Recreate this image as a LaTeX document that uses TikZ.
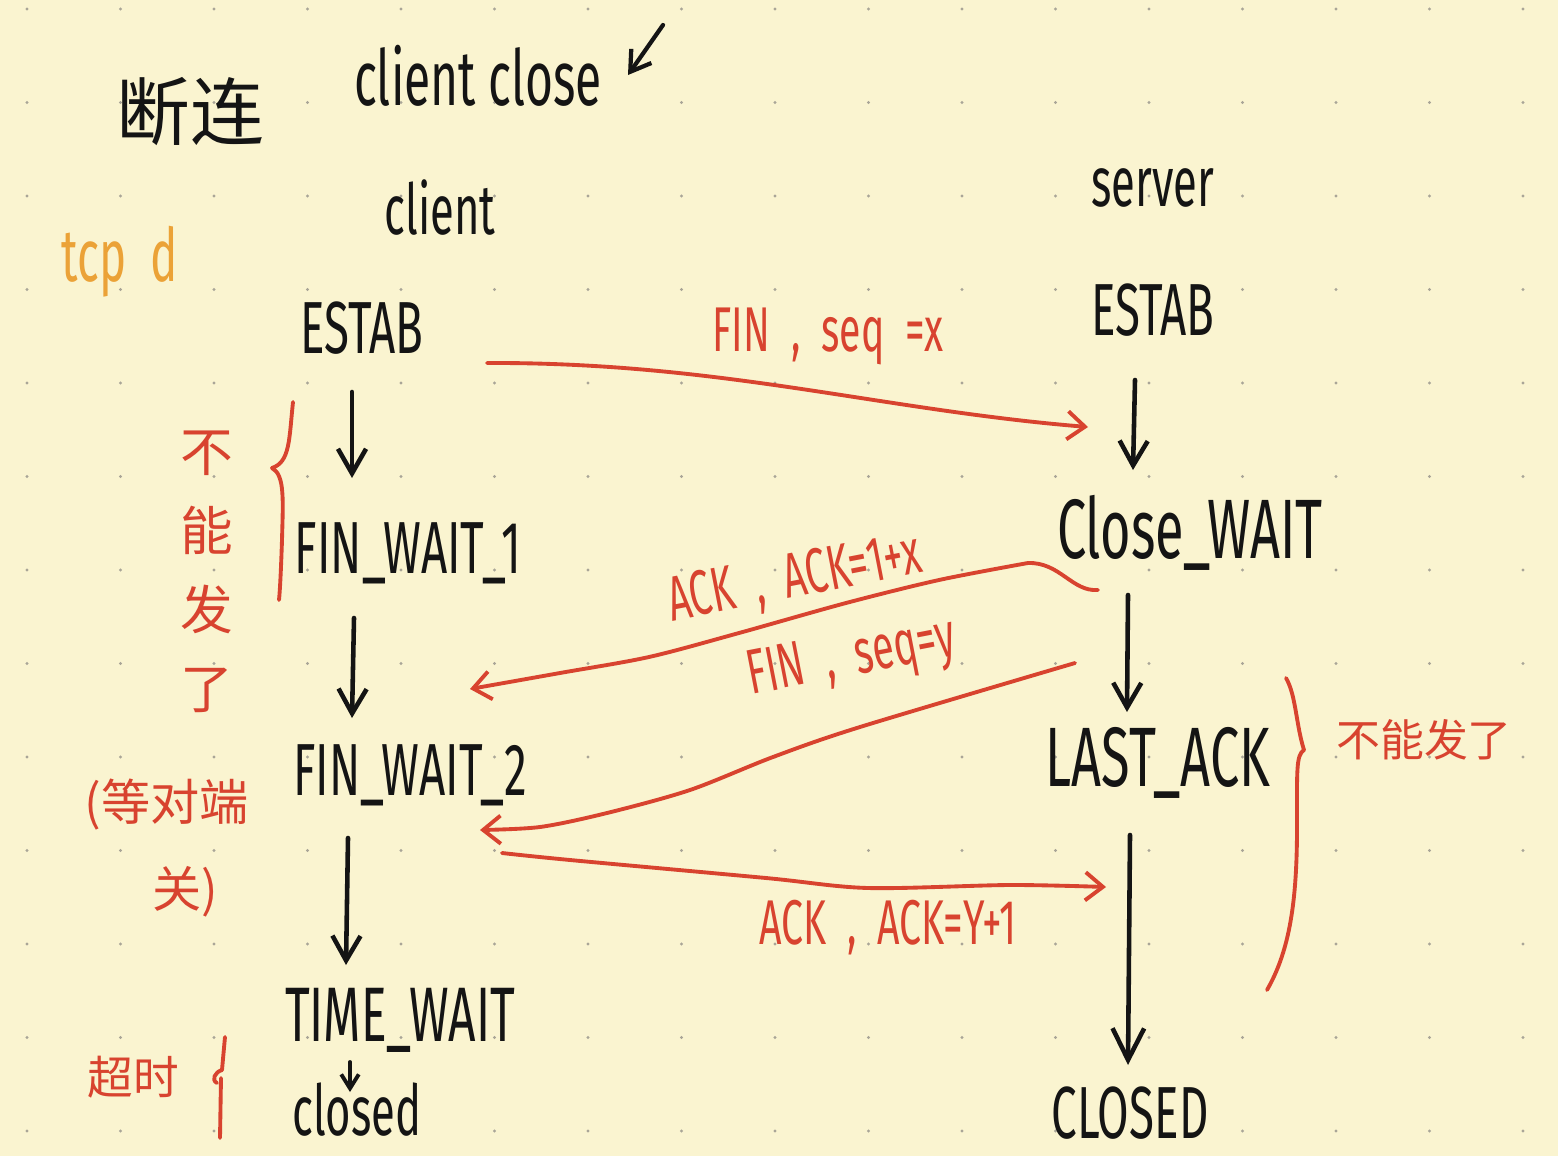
\documentclass[tikz,border=0pt]{standalone}
\usepackage{fontspec}
\setmainfont{Fira Sans}
\newfontfamily\hand[FakeStretch=0.62]{Fira Sans}
\newfontfamily\cjk{Noto Sans CJK SC}
\usetikzlibrary{arrows.meta}
\definecolor{paper}{HTML}{FAF4D0}
\definecolor{dotc}{HTML}{A9A597}
\definecolor{ink}{HTML}{141414}
\definecolor{redink}{HTML}{D8432F}
\definecolor{orink}{HTML}{EBA237}
\begin{document}
\begin{tikzpicture}[x=0.02cm,y=-0.02cm,line cap=round,line join=round,
  state/.style={font=\hand\fontsize{42pt}{42pt}\selectfont,text=ink,inner sep=0pt},
  bigstate/.style={font=\hand\fontsize{48pt}{48pt}\selectfont,text=ink,inner sep=0pt},
  note/.style={font=\hand\fontsize{40pt}{40pt}\selectfont,text=ink,inner sep=0pt},
  onote/.style={font=\hand\fontsize{42pt}{42pt}\selectfont,text=orink,inner sep=0pt},
  rnote/.style={font=\hand\fontsize{36pt}{36pt}\selectfont,text=redink,inner sep=0pt},
  bcjk/.style={font=\cjk\fontsize{42pt}{42pt}\selectfont,text=ink,inner sep=0pt},
  rcjk/.style={font=\cjk\fontsize{28pt}{28pt}\selectfont,text=redink,inner sep=0pt},
  flow/.style={draw=ink,line width=2.6pt,-{Straight Barb[length=14pt,width=16pt]}},
  msg/.style={draw=redink,line width=2.2pt,-{Straight Barb[length=10pt,width=16pt]}},
  redline/.style={draw=redink,line width=2.2pt},
]
\fill[paper] (0,0) rectangle (1558,1156);
\useasboundingbox (0,0) rectangle (1558,1156);
\foreach \i in {0,...,16}
  \foreach \j in {0,...,12}
    \fill[dotc] ({27+93.5*\i},{9+93.5*\j}) circle (0.9pt);

% titles
\node[bcjk] (title) at (190,112) {断连};
\node[note,font=\hand\fontsize{44pt}{44pt}\selectfont] (cc) at (478,76) {client close};
\coordinate (tas) at (663,25);
\coordinate (tae) at (628,75);
\draw[draw=ink,line width=2.4pt,-{Straight Barb[length=11pt,width=14pt]}] (tas) -- (tae);
\node[note] (cl) at (440,208) {client};
\node[note] (sv) at (1153,188) {server};
\node[onote] (tcp) at (120,262) {tcp \ d};

% states
\node[state] (estabL) at (362,328) {ESTAB};
\node[state] (estabR) at (1153,310) {ESTAB};
\node[state] (fw1) at (408,553) {FIN\_WAIT\_1};
\node[state] (fw2) at (410,775) {FIN\_WAIT\_2};
\node[state,font=\hand\fontsize{44pt}{44pt}\selectfont] (tw) at (400,1020) {TIME\_WAIT};
\node[note] (closedL) at (357,1110) {closed};
\node[bigstate] (cw) at (1190,533) {Close\_WAIT};
\node[bigstate] (la) at (1158,763) {LAST\_ACK};
\node[state] (closedR) at (1130,1113) {CLOSED};

% black flow arrows
\coordinate (a1s) at (352,392); \coordinate (a1e) at (352,478);
\coordinate (a2s) at (354,618); \coordinate (a2e) at (352,718);
\coordinate (a3s) at (348,838); \coordinate (a3e) at (346,965);
\coordinate (a4s) at (350,1062); \coordinate (a4e) at (350,1092);
\coordinate (b1s) at (1135,380); \coordinate (b1e) at (1133,470);
\coordinate (b2s) at (1128,595); \coordinate (b2e) at (1127,712);
\coordinate (b3s) at (1130,835); \coordinate (b3e) at (1128,1065);
\draw[flow] (a1s) -- (a1e);
\draw[flow] (a2s) -- (a2e);
\draw[flow] (a3s) -- (a3e);
\draw[draw=ink,line width=2.2pt,-{Straight Barb[length=8pt,width=10pt]}] (a4s) -- (a4e);
\draw[flow] (b1s) -- (b1e);
\draw[flow] (b2s) -- (b2e);
\draw[draw=ink,line width=2.6pt,-{Straight Barb[length=18pt,width=18pt]}] (b3s) -- (b3e);

% messages
\coordinate (finS) at (487,363); \coordinate (finE) at (1088,427);
\draw[msg] (finS) .. controls (720,362) and (880,410) .. (finE);
\node[rnote] (l1) at (828,336) {FIN \ , \ seq \ =x};

\coordinate (ackS) at (1028,563); \coordinate (ackE) at (470,689);
\draw[msg] plot[smooth] coordinates {(ackS) (939,580) (846,603) (739,633) (649,657) (560,673) (ackE)};
\draw[redline] (ackS) .. controls (1060,562) and (1072,592) .. (1098,590);
\node[rnote,rotate=11] (l2) at (795,580) {ACK \ , \ ACK=1+x};

\coordinate (fin2S) at (1075,663); \coordinate (fin2E) at (480,830);
\draw[msg] plot[smooth] coordinates {(fin2S) (860,727) (773,757) (690,790) (607,813) (540,827) (fin2E)};
\node[rnote,rotate=11] (l3) at (852,660) {FIN \ , \ seq=y};

\coordinate (ack2S) at (502,853); \coordinate (ack2E) at (1106,887);
\draw[msg] plot[smooth] coordinates {(ack2S) (570,860) (766,878) (868,888) (1010,885) (ack2E)};
\node[rnote] (l4) at (888,928) {ACK \ , \ ACK=Y+1};

% braces and notes
\draw[redline] (293,402) .. controls (289,440) and (290,462) .. (272,468)
  .. controls (285,475) and (283,500) .. (282,540) .. controls (281,570) and (280,590) .. (279,600);
\node[rcjk,font=\cjk\fontsize{30pt}{45pt}\selectfont,align=center] (nl) at (207,572) {不\\能\\发\\了};
\node[rcjk] (wait1) at (167,805) {(等对端};
\node[rcjk] (wait2) at (185,892) {关)};
\node[rcjk,font=\cjk\fontsize{26pt}{26pt}\selectfont] (timeout) at (133,1077) {超时};
\draw[redline] (225,1037) -- (222,1070) .. controls (215,1072) and (211,1080) .. (217,1083);
\draw[redline] (221,1078) -- (220,1138);
\draw[redline] (1286,678) .. controls (1296,695) and (1296,725) .. (1304,750)
  .. controls (1296,755) and (1297,770) .. (1297,827) .. controls (1297,900) and (1290,950) .. (1267,990);
\node[rcjk,font=\cjk\fontsize{25pt}{25pt}\selectfont] (nr) at (1424,740) {不能发了};
\end{tikzpicture}
\end{document}
